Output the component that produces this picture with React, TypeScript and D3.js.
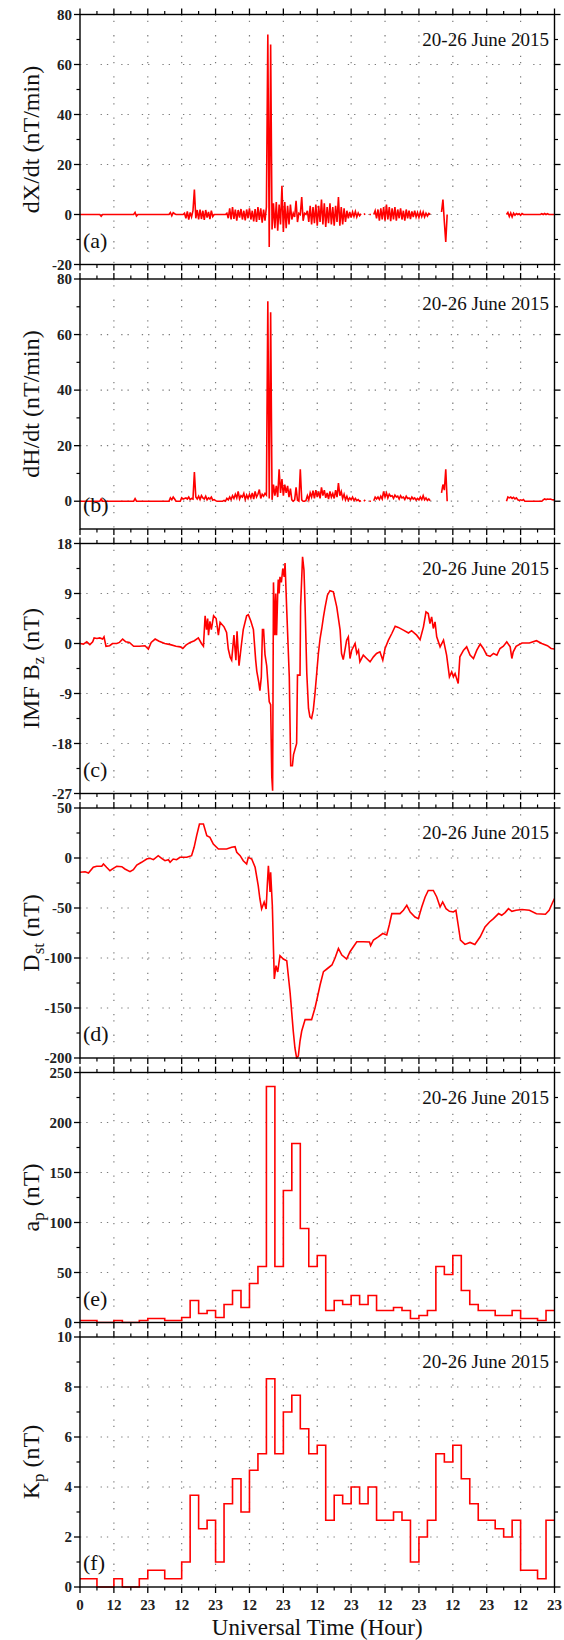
import React from "react";
import * as d3 from "d3";

const FONT = "Liberation Serif, Times New Roman, Times, serif";
const RED = "#ff0000";
const _ = null;

// ---------- x axis ----------
const xTickHours = [0, 12, 24, 36, 48, 60, 72, 84, 96, 108, 120, 132, 144, 156, 168];
const xTickLabels = ["0", "12", "23", "12", "23", "12", "23", "12", "23", "12", "23", "12", "23", "12", "23"];
const xMinorHours = [6, 18, 30, 42, 54, 66, 78, 90, 102, 114, 126, 138, 150, 162];

// ---------- (a) dX/dt, every 0.5 h from 0 to 168 ----------
const dxdt: (number | null)[] = [
  0, 0, 0, 0, 0, 0, 0, 0, 0, 0, 0, 0, 0, 0, 0, -0.7, 0, 0, 0, 0, 0, 0, 0, 0,
  0, 0, 0, 0, 0, 0, 0, 0, 0, 0, 0, 0, 0, 0, 0, 0.8, -0.6, 0, 0, 0, 0, 0, 0, 0,
  0, 0, 0, 0, 0, 0, 0, 0, 0, 0, 0, 0, 0, 0, 0, 0, 0.8, -0.5, 0.7, 0.3, 0, 0, 0, 0,
  0, 0, 0.5, -1.5, 1.2, -2, 0.8, -1, 1.5, 10, -1.5, 1.8, -2, 2, -1.8, 1.5, -2.2, 1.8, -1.2, 1, -1.8, 1.5, -0.8, 0,
  0, 0, 0, 0, 0, 0, 0, 0, 0.5, -1.5, 2.5, -2, 3, -1.8, 2, -2.5, 1.8, -1.2, 2.2, -2, 1.5, -2.4, 2, -1.5,
  2.5, -2, 1.5, -2.8, 2.2, -3, 3, -2.2, 2.5, -3.3, 2, -2.5, 3, 72, -13, 68, -6, 4.5, -5.5, 5, -6.5, 4, -4, 11.5,
  -7, 5, -5.5, 3.5, -4, 4, -2, 0.5, -1, 5.5, -3, 0.5, 0, 7, -2.5, 0.5, 0, 1.5, -3, 3.5, -4, 3, -3.5, 4,
  -4.5, 3.5, -3, 6, -4, 4.5, -5, 3, -3.5, 4.5, -4, 3, -4.5, 3.5, -3, 7, -4.5, 3, -4, 2.5, -3, 1.5, -1.5, 1,
  -1.2, 1, -0.8, 1.2, -1, 0.6, -0.5, 0.3, _, 0, 0.3, _, _, 0, 0, _, 0, 1.5, -1.5, 2, -2.5, 2.5, -2, 3,
  -2.5, 4, -2, 3, -2.7, 2.5, -2, 3, -2.5, 2, -1.5, 2.5, -2, 1.5, -2.5, 2, -1.5, 1.5, -1.8, 1.2, -1, 1.5, -1, 0.8,
  -1.2, 1, -0.8, 1, -1, 0.5, -0.6, 0.4, 0, _, _, _, _, _, _, _, 1, 6, -3, -11, 0, _, _, _,
  _, _, _, _, _, _, _, _, _, _, _, _, _, _, _, _, _, _, _, _, _, _, _, _,
  _, _, _, _, _, _, _, _, _, _, _, _, _, _, 0, 0.8, -0.8, 0.6, -1, 0.5, -0.3, 0.4, 0, 0.3,
  -0.3, 0.4, 0, 0, 0, 0, 0, 0, 0, 0, 0, 0, 0, 0, 0, 0.3, 0, 0.4, 0, 0.3, 0, 0, 0, 0,
  0,
];

// ---------- (b) dH/dt, every 0.5 h from 0 to 168 ----------
const dhdt: (number | null)[] = [
  0, 0, 0, 0, 0, 0, 0, 0, 0, 0, 0, 0, 0, 0, 0, 0.8, 0, 0, 0, 0, 0, 0, 0, 0,
  0, 0, 0, 0, 0, 0, 0, 0, 0, 0, 0, 0, 0, 0, 0, 0.9, 0, 0, 0, 0, 0, 0, 0, 0,
  0, 0, 0, 0, 0, 0, 0, 0, 0, 0, 0, 0, 0, 0, 0, 0, 1.2, 0.5, 1.5, 0.8, 0, 0, 0, 0,
  1.2, 0.8, 1, 1.2, 0.8, 1.5, 0.6, 1, 0.8, 10.5, 1.5, 0.8, 1.8, 0.6, 2, 1.2, 0.8, 1.8, 0.5, 1.2, 0.8, 1.5, 0.4, 0.6,
  0.2, 0, 0, 0, 0, 0, 0.3, 0, 1, 0.5, 1.5, 0.6, 2, 1, 2.5, 1.2, 3.5, 0.8, 2, 1.5, 2.8, 0.6, 2.2, 1,
  2.5, 1.2, 3, 0.8, 3.5, 1.5, 2.5, 4.2, 1, 2.5, 1.8, 2.8, 2.2, 72, 1, 68, 0.5, 6, 2, 5.5, 1.5, 11.5, 3, 8,
  2, 6, 3, 5.5, 1.5, 4.5, 0.5, 0, 0.5, 5, 0.3, 0, 11.5, 0.5, 0, 0, 0.3, 2, 0.5, 3, 1.5, 3.8, 1, 4,
  1.5, 3.5, 1, 5, 2, 4, 1.2, 3, 0.8, 3.5, 1.5, 2.8, 1, 4, 1.5, 6.5, 2, 3.5, 1, 2.5, 0.5, 1.8, 0.3, 1.2,
  0.5, 1.5, 0.3, 1, 0.2, 0.6, 0, 0.2, _, 0, 0.5, _, _, 0, 0, _, 0.2, 1.5, 0.8, 1.5, 0.6, 1.8, 0.8, 3.5,
  1.5, 3, 1.2, 2.5, 1.8, 2, 1, 2.2, 1.5, 1.8, 0.8, 2, 1.2, 1.5, 0.6, 1.8, 1, 1.2, 0.5, 1.5, 0.8, 1.2, 0.4, 1,
  0.5, 1.5, 0.6, 2, 0.5, 1.2, 0.3, 0.8, 0.2, _, _, _, _, _, _, _, 3, 6, 4, 11.5, 0, _, _, _,
  _, _, _, _, _, _, _, _, _, _, _, _, _, _, _, _, _, _, _, _, _, _, _, _,
  _, _, _, _, _, _, _, _, _, _, _, _, _, _, 0, 1.5, 1.2, 1.5, 1, 1.4, 0.8, 1.2, 0.5, 0.3,
  0.5, 0.3, 0.6, 0, 0, 0, 0, 0, 0, 0, 0, 0, 0, 0, 0, 0, 0.5, 0.8, 0.6, 0.8, 0.7, 0.8, 0.6, 0.5,
  0.5,
];

// ---------- (c) IMF Bz [hour, nT] ----------
const bzData: [number, number][] = [
  [0, 0], [1.2, -0.1], [2.4, 0.3], [3.5, -0.2], [4.5, 0.3], [5, 1], [6, 0.9], [7, 1], [8, 0.8], [8.5, 1.2],
  [9.2, -0.5], [10.5, -0.4], [11.5, 0], [13, 0], [14, 0.2], [15.1, 0.8], [16.2, 0.3], [17.5, 0.2], [19, -0.5],
  [21, -0.5], [23, -0.4], [24.2, -1], [25.2, 0.2], [26.6, 0.8], [28, 0.4], [30, 0], [32, -0.2], [34, -0.5],
  [35.5, -0.6], [36.4, -0.9], [37.5, -0.3], [39, 0.2], [40.5, 0.5], [41.9, 1], [43, 0], [43.7, -0.5], [44.3, 5],
  [44.8, 2.5], [45.2, 4.5], [45.5, 1.5], [46, 4], [46.5, 2.5], [47.3, 5], [48.2, 4.5], [49, 1.5], [49.6, 3.8],
  [51, 3], [51.9, 2], [52.5, -1], [53.2, -2.5], [53.7, -3], [54.5, 1.5], [55.2, -3], [55.6, 2.2], [56.3, -4],
  [57.2, 0], [57.8, 2.5], [59, 5], [59.6, 5.2], [60.5, 4], [61.4, 2.5], [62.2, -3], [62.6, -5], [63.3, -7],
  [63.7, -8.5], [64.2, -6], [64.6, 2.5], [65, 2.5], [65.5, -2], [66.1, -4], [67, -10.5], [67.5, -11], [67.9, -24],
  [68.2, -26.5], [68.5, 11], [69, 1.5], [69.3, 9], [69.6, 1.5], [70, 9], [70.2, 11.5], [70.5, 9], [70.8, 12],
  [71.3, 11], [71.8, 13.5], [72.3, 12], [72.6, 14.5], [73.2, 6], [74.1, -6], [74.6, -22], [75.2, -22],
  [75.6, -20], [76.7, -18], [77, -5.7], [77.9, -5.7], [78.1, 6.6], [78.8, 15.6], [79.3, 13.2], [79.7, 6.6],
  [80.3, -5.4], [80.9, -11.7], [81.4, -13.2], [82, -13.5], [82.6, -12], [83.2, -9], [83.8, -5.4], [84.4, -1.8],
  [85, 0.9], [85.6, 2.7], [86.2, 4.8], [86.8, 6.6], [87.6, 8.7], [88.5, 9.5], [89.7, 9.3], [90.9, 6.6],
  [92.1, 2.4], [92.6, -1.8], [93.2, -2.9], [93.8, -1.2], [94.4, 0.6], [95, 1.2], [95.6, -2.7], [96.2, -1.2],
  [97.4, 0], [98, -1.8], [98.6, -1.2], [99.1, -3.3], [100.3, -2.1], [101.5, -2.7], [102.7, -3.3], [103.9, -2.4],
  [105, -1.8], [106.2, -1.5], [107.2, -3], [108, -0.9], [109.2, 0.6], [110.4, 1.8], [111.6, 3.1], [112.7, 2.9],
  [114.5, 2.4], [116.3, 1.9], [117.4, 2.3], [119.2, 1.5], [120.4, 0.7], [121.6, 3], [122.5, 5.7], [123.3, 5.4],
  [123.9, 3.6], [124.5, 4.8], [125.1, 2.7], [125.7, 3.9], [126.3, 1.2], [127.5, -0.6], [128.7, 0.6],
  [129.8, -2.1], [130.8, -6], [131.6, -5.1], [132.2, -6], [132.8, -5.4], [133.9, -7.2], [134.5, -2.4],
  [135.8, -1.2], [136.9, -0.6], [138.1, -2.1], [139.3, -2.7], [140.5, -1.2], [141.7, -0.1], [142.8, -0.9],
  [144, -2.1], [145.2, -2.3], [146.4, -1.8], [147.6, -2.1], [148.7, -0.9], [149.9, -0.5], [151.1, 0.3],
  [152.3, -0.6], [152.9, -2.7], [153.4, -1.5], [154.4, -0.5], [156.5, 0.1], [159.1, 0.1], [161.6, 0.5],
  [163.5, 0], [165.5, -0.4], [166.8, -0.9], [168, -1],
];

// ---------- (d) Dst [hour, nT] ----------
const dstData: [number, number][] = [
  [0, -14.3], [1.8, -13.7], [3, -15], [4.7, -9.3], [5.9, -8.3], [7.7, -8.3], [8.3, -6], [9.4, -9.3],
  [10.6, -12.7], [11.8, -10.3], [13, -8.3], [14.8, -8.7], [15.9, -11], [17.7, -13.7], [18.9, -11.7], [20.1, -7],
  [21.8, -4.3], [23.6, -1], [24.8, -0.3], [26, -1.7], [27.7, 2.3], [28.9, -0.3], [30.1, -2.7], [31.3, -1.7],
  [31.9, -4.3], [33, -1], [34.2, -1.7], [35.4, 0.7], [37.8, 0.7], [39.5, 2.3], [40.4, 10.7], [41.3, 22.3],
  [42.3, 34], [43.7, 34], [44.9, 22.3], [46, 20.7], [47.2, 14], [49, 9], [51.9, 9], [53.7, 10.7], [54.9, 11.3],
  [55.5, 5.7], [56.7, 2.3], [57.8, -2.7], [59, -6], [59.6, 0.7], [60.8, -1], [62, -9.3], [63.1, -27.7],
  [63.7, -41], [64.3, -51], [65.2, -44], [65.9, -51], [66.3, -27.7], [66.7, -7.7], [67.3, -34], [67.5, -14.3],
  [68.1, -47.7], [68.5, -91], [68.8, -121], [69.4, -107.7], [70, -114], [70.8, -97.7], [72, -101],
  [73.2, -102.7], [74.4, -135], [75.5, -173], [76.1, -190], [76.7, -200], [77.3, -198], [77.9, -183],
  [78.5, -173], [79.7, -161.6], [82, -161.6], [83.2, -150], [84, -140], [85, -127], [86.2, -113.6],
  [87.4, -111], [89.2, -107], [90.3, -100], [91.5, -90.4], [92.7, -97], [94.4, -101], [95.6, -93.7],
  [96.8, -88.7], [98, -83.8], [100.3, -83.8], [102.5, -84], [102.9, -87.7], [103.9, -82], [105.6, -78.8],
  [107.2, -75.5], [108.6, -77], [109.5, -67], [110.4, -55.6], [113.3, -55.6], [114.5, -52.3], [115.7, -47.4],
  [116.9, -54], [118.6, -59], [119.8, -60.6], [121, -49], [122.2, -39], [123.3, -32.5], [125.1, -32.5],
  [126.3, -39], [127.5, -49], [128.4, -44], [129.6, -50.7], [130.8, -53.3], [132.2, -54], [133.1, -52.3],
  [133.9, -67], [134.7, -82], [136.3, -86.4], [138.1, -84.4], [139.8, -86.4], [141.7, -78.8], [143.4, -68.9],
  [145, -64], [146.4, -60.6], [148.2, -55.6], [149.3, -57.3], [150.5, -54.6], [151.7, -50.7], [152.9, -53.3],
  [154.4, -52.3], [156.5, -51.5], [159.1, -52.3], [161.6, -55.7], [164.8, -56.3], [166.1, -52.3],
  [167.4, -44], [168, -40.7],
];

// ---------- (e) ap, 3-hourly ----------
const apValues = [
  2, 2, 0, 0, 2, 0, 0, 2, 4, 4, 2, 2, 5, 22, 9, 12, 5, 18, 32, 15, 39, 56, 236, 56, 132, 179, 94, 56,
  67, 12, 22, 18, 27, 18, 27, 12, 12, 15, 12, 4, 7, 12, 56, 48, 67, 32, 18, 12, 12, 7, 7, 12, 4, 4, 2, 12,
];

// ---------- (f) Kp, 3-hourly ----------
const kpValues = [
  0.33, 0.33, 0, 0, 0.33, 0, 0, 0.33, 0.67, 0.67, 0.33, 0.33, 1, 3.67, 2.33, 2.67, 1, 3.33, 4.33, 3, 4.67,
  5.33, 8.33, 5.33, 7, 7.67, 6.33, 5.33, 5.67, 2.67, 3.67, 3.33, 4, 3.33, 4, 2.67, 2.67, 3, 2.67, 1, 2,
  2.67, 5.33, 5, 5.67, 4.33, 3.33, 2.67, 2.67, 2.33, 2, 2.67, 0.67, 0.67, 0.33, 2.67,
];

// ---------- y axes ----------
const aTicks = [-20, 0, 20, 40, 60, 80];
const bTicks = [0, 20, 40, 60, 80];
const cTicks = [-27, -18, -9, 0, 9, 18];
const dTicks = [-200, -150, -100, -50, 0, 50];
const eTicks = [0, 50, 100, 150, 200, 250];
const fTicks = [0, 2, 4, 6, 8, 10];

const W = 564;
const H = 1640;
const X0 = 80;
const X1 = 554.5;
const PH = 250;

type PanelDef = {
  key: string;
  top: number;
  domain: [number, number];
  ticks: number[];
  minor: number[];
  grid: number[];
  letter: string;
  label: React.ReactNode;
  path: (y: d3.ScaleLinear<number, number>) => string;
};

const x = d3.scaleLinear().domain([0, 168]).range([X0, X1]);

function seriesPath(values: (number | null)[], y: d3.ScaleLinear<number, number>) {
  return (
    d3
      .line<number | null>()
      .defined((d) => d !== null)
      .x((_d, i) => x(i * 0.5))
      .y((d) => y(d as number))(values) || ""
  );
}

function pairPath(data: [number, number][], y: d3.ScaleLinear<number, number>) {
  return (
    d3
      .line<[number, number]>()
      .x((d) => x(d[0]))
      .y((d) => y(d[1]))(data) || ""
  );
}

function stepPath(values: number[], y: d3.ScaleLinear<number, number>) {
  const pts: [number, number][] = values.map((v, i) => [i * 3, v]);
  pts.push([168, values[values.length - 1]]);
  return (
    d3
      .line<[number, number]>()
      .curve(d3.curveStepAfter)
      .x((d) => x(d[0]))
      .y((d) => y(d[1]))(pts) || ""
  );
}

const sub = (t: string) => (
  <tspan fontSize="17" dy="5">
    {t}
  </tspan>
);

const panels: PanelDef[] = [
  {
    key: "a",
    top: 14.5,
    domain: [-20, 80],
    ticks: aTicks,
    minor: [-10, 10, 30, 50, 70],
    grid: [0, 20, 40, 60],
    letter: "(a)",
    label: <>dX/dt (nT/min)</>,
    path: (y) => seriesPath(dxdt, y),
  },
  {
    key: "b",
    top: 279,
    domain: [-10, 80],
    ticks: bTicks,
    minor: [10, 30, 50, 70],
    grid: [0, 20, 40, 60],
    letter: "(b)",
    label: <>dH/dt (nT/min)</>,
    path: (y) => seriesPath(dhdt, y),
  },
  {
    key: "c",
    top: 543.5,
    domain: [-27, 18],
    ticks: cTicks,
    minor: [-22.5, -13.5, -4.5, 4.5, 13.5],
    grid: [-18, -9, 0, 9],
    letter: "(c)",
    label: (
      <>
        IMF B{sub("z")}
        <tspan dy="-5" fontSize="24"> (nT)</tspan>
      </>
    ),
    path: (y) => pairPath(bzData, y),
  },
  {
    key: "d",
    top: 808,
    domain: [-200, 50],
    ticks: dTicks,
    minor: [-175, -125, -75, -25, 25],
    grid: [-150, -100, -50, 0],
    letter: "(d)",
    label: (
      <>
        D{sub("st")}
        <tspan dy="-5" fontSize="24"> (nT)</tspan>
      </>
    ),
    path: (y) => pairPath(dstData, y),
  },
  {
    key: "e",
    top: 1072.5,
    domain: [0, 250],
    ticks: eTicks,
    minor: [25, 75, 125, 175, 225],
    grid: [50, 100, 150, 200],
    letter: "(e)",
    label: (
      <>
        a{sub("p")}
        <tspan dy="-5" fontSize="24"> (nT)</tspan>
      </>
    ),
    path: (y) => stepPath(apValues, y),
  },
  {
    key: "f",
    top: 1337,
    domain: [0, 10],
    ticks: fTicks,
    minor: [1, 3, 5, 7, 9],
    grid: [2, 4, 6, 8],
    letter: "(f)",
    label: (
      <>
        K{sub("p")}
        <tspan dy="-5" fontSize="24"> (nT)</tspan>
      </>
    ),
    path: (y) => stepPath(kpValues, y),
  },
];

const GRID = { stroke: "#7a7a7a", strokeWidth: 1.2, strokeDasharray: "1.3,5,1.3,13" };
const MAJ = 6;
const MIN = 3.5;

function Panel({ p, last }: { p: PanelDef; last: boolean }) {
  const y = d3.scaleLinear().domain(p.domain).range([p.top + PH, p.top]);
  const bottom = p.top + PH;
  const clipId = `clip-${p.key}`;
  const innerX = xTickHours.slice(1, -1);
  return (
    <g>
      <defs>
        <clipPath id={clipId}>
          <rect x={X0} y={p.top - 1} width={X1 - X0} height={PH + 2} />
        </clipPath>
      </defs>
      {innerX.map((h) => (
        <line key={`gx${h}`} x1={x(h)} x2={x(h)} y1={p.top} y2={bottom} {...GRID} />
      ))}
      {p.grid.map((v) => (
        <line key={`gy${v}`} x1={X0} x2={X1} y1={y(v)} y2={y(v)} {...GRID} />
      ))}
      <path
        d={p.path(y)}
        fill="none"
        stroke={RED}
        strokeWidth={1.6}
        strokeLinejoin="miter"
        clipPath={`url(#${clipId})`}
      />
      <rect x={X0} y={p.top} width={X1 - X0} height={PH} fill="none" stroke="#000" strokeWidth={1.4} />
      {xTickHours.map((h) => (
        <g key={`xt${h}`}>
          <line x1={x(h)} x2={x(h)} y1={bottom} y2={bottom + MAJ} stroke="#000" strokeWidth={1.3} />
          <line x1={x(h)} x2={x(h)} y1={p.top} y2={p.top - MAJ} stroke="#000" strokeWidth={1.3} />
        </g>
      ))}
      {xMinorHours.map((h) => (
        <g key={`xm${h}`}>
          <line x1={x(h)} x2={x(h)} y1={bottom} y2={bottom + MIN} stroke="#000" strokeWidth={1.2} />
          <line x1={x(h)} x2={x(h)} y1={p.top} y2={p.top - MIN} stroke="#000" strokeWidth={1.2} />
        </g>
      ))}
      {p.ticks.map((v) => (
        <g key={`yt${v}`}>
          <line x1={X0} x2={X0 - MAJ} y1={y(v)} y2={y(v)} stroke="#000" strokeWidth={1.3} />
          <line x1={X1} x2={X1 + MAJ} y1={y(v)} y2={y(v)} stroke="#000" strokeWidth={1.3} />
          <text
            x={72}
            y={y(v)}
            dy="0.35em"
            textAnchor="end"
            fontSize={15}
            fontWeight="bold"
            fontFamily={FONT}
            fill="#222"
          >
            {v}
          </text>
        </g>
      ))}
      {p.minor.map((v) => (
        <g key={`ym${v}`}>
          <line x1={X0} x2={X0 - MIN} y1={y(v)} y2={y(v)} stroke="#000" strokeWidth={1.2} />
          <line x1={X1} x2={X1 + MIN} y1={y(v)} y2={y(v)} stroke="#000" strokeWidth={1.2} />
        </g>
      ))}
      <text x={549} y={p.top + 31} textAnchor="end" fontSize={19} fontFamily={FONT} fill="#111">
        20-26 June 2015
      </text>
      <text x={83} y={bottom - 17} fontSize={22} fontFamily={FONT} fill="#111">
        {p.letter}
      </text>
      <text
        transform={`translate(39, ${p.top + PH / 2}) rotate(-90)`}
        textAnchor="middle"
        fontSize={24}
        fontFamily={FONT}
        fill="#111"
      >
        {p.label}
      </text>
      {last &&
        xTickHours.map((h, i) => (
          <text
            key={`xl${h}`}
            x={x(h)}
            y={bottom + 23}
            textAnchor="middle"
            fontSize={15}
            fontWeight="bold"
            fontFamily={FONT}
            fill="#222"
          >
            {xTickLabels[i]}
          </text>
        ))}
    </g>
  );
}

export default function App() {
  return (
    <svg
      width={W}
      height={H}
      viewBox={`0 0 ${W} ${H}`}
      style={{ position: "absolute", left: 0, top: 0, background: "#fff" }}
    >
      <rect x={0} y={0} width={W} height={H} fill="#fff" />
      {panels.map((p, i) => (
        <Panel key={p.key} p={p} last={i === panels.length - 1} />
      ))}
      <text x={(X0 + X1) / 2} y={1635} textAnchor="middle" fontSize={23} fontFamily={FONT} fill="#111">
        Universal Time (Hour)
      </text>
    </svg>
  );
}
